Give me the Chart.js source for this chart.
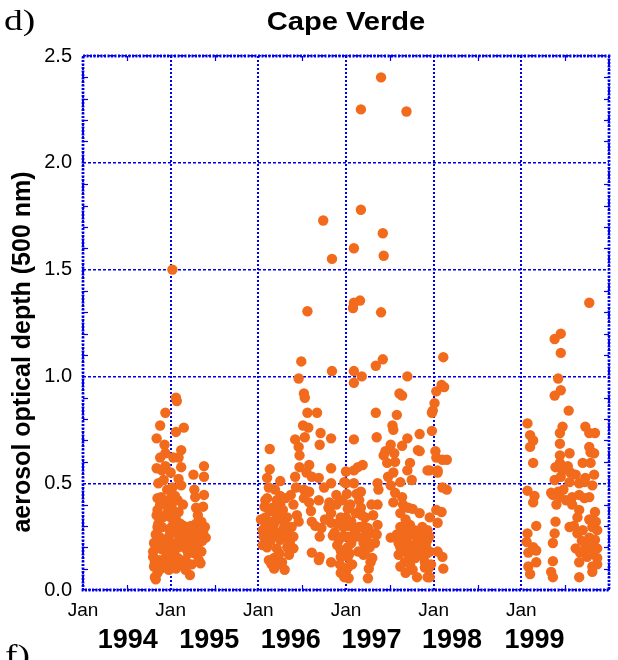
<!DOCTYPE html>
<html><head><meta charset="utf-8">
<script src="https://cdn.jsdelivr.net/npm/chart.js@4"></script>
<style>html,body{margin:0;padding:0;background:#fff}#wrap{width:618px;height:660px;position:relative}</style>
</head><body><div id="wrap"><canvas id="c" width="618" height="660"></canvas></div>
<script>
// ---- data: [decimal year, aerosol optical depth at 500 nm] ----
const season1994_95 = [
[1995.06,0.90],[1995.07,0.885],[1994.94,0.83],[1994.88,0.77],[1995.15,0.76],[1995.06,0.74],[1994.84,0.71],[1994.93,0.68],[1995.12,0.655],[1994.94,0.64],[1994.88,0.62],[1995.03,0.62],[1995.09,0.62],[1994.84,0.57],[1994.90,0.56],[1994.94,0.58],[1995.12,0.575],[1995.00,0.55],[1994.92,0.515],[1995.38,0.58],[1995.26,0.54],[1995.38,0.53],[1995.12,0.49],[1995.27,0.47],[1995.28,0.435],[1995.38,0.445],[1994.85,0.43],[1994.89,0.435],[1995.00,0.43],[1995.08,0.42],[1994.85,0.375],[1994.94,0.40],[1995.01,0.39],[1995.09,0.365],[1995.29,0.385],[1995.37,0.39],[1995.00,0.34],[1995.06,0.33],[1995.11,0.31],[1995.29,0.31],[1995.39,0.295],[1995.35,0.32],[1994.85,0.295],[1994.90,0.295],[1994.98,0.285],[1995.03,0.27],[1995.13,0.265],[1995.22,0.26],[1995.29,0.25],[1995.40,0.245],[1994.87,0.25],[1994.98,0.225],[1995.06,0.22],[1995.17,0.225],[1995.24,0.22],[1995.31,0.21],[1994.83,0.195],[1994.90,0.19],[1994.98,0.195],[1995.09,0.20],[1995.18,0.19],[1995.28,0.17],[1995.35,0.18],[1994.80,0.155],[1994.87,0.14],[1994.94,0.15],[1995.01,0.13],[1995.09,0.12],[1995.18,0.13],[1995.24,0.12],[1995.34,0.125],[1994.81,0.11],[1994.89,0.10],[1994.98,0.095],[1995.06,0.10],[1995.22,0.07],[1995.17,0.095],[1994.83,0.05],[1994.82,0.06],[1994.85,0.08],[1995.02,1.50],
[1994.82,0.13],[1994.80,0.18],[1994.81,0.22],[1994.83,0.26],[1994.96,0.36],[1995.04,0.36],[1995.02,0.30],[1995.07,0.28],[1995.10,0.25],[1995.14,0.21],[1995.20,0.17],[1995.27,0.28],[1995.33,0.27],[1995.36,0.23],[1995.31,0.35],[1994.96,0.47],[1995.05,0.44],[1994.98,0.25],[1995.12,0.14],[1995.14,0.40],[1994.86,0.31],[1994.91,0.34],
[1994.84,0.35],[1994.88,0.40],[1994.92,0.22],[1994.95,0.12],[1994.99,0.16],[1995.04,0.18],[1995.08,0.15],[1995.15,0.30],[1995.19,0.26],[1995.23,0.30],[1995.26,0.19],[1995.32,0.14],[1995.37,0.27],[1995.02,0.48],[1995.09,0.52],[1994.86,0.50]
];
const season1996 = [
[1996.46,0.99],[1996.49,1.07],[1996.56,1.305],[1996.74,1.73],[1996.84,1.55],[1996.84,1.025],[1996.52,0.92],[1996.53,0.90],[1996.56,0.83],[1996.67,0.83],[1996.51,0.77],[1996.57,0.76],[1996.71,0.735],[1996.83,0.71],[1996.53,0.715],[1996.42,0.705],[1996.70,0.68],[1996.46,0.67],[1996.47,0.63],[1996.13,0.66],[1996.58,0.585],[1996.83,0.57],[1996.13,0.565],[1996.47,0.575],[1996.55,0.55],[1996.61,0.53],[1996.69,0.525],[1996.42,0.53],[1996.10,0.525],[1996.25,0.51],[1996.98,0.505],[1996.12,0.48],[1996.43,0.48],[1996.52,0.47],[1996.58,0.46],[1996.75,0.48],[1996.83,0.50],[1996.89,0.445],[1996.25,0.44],[1996.52,0.43],[1996.69,0.42],[1996.07,0.39],[1996.16,0.385],[1996.25,0.40],[1996.40,0.40],[1996.58,0.41],[1996.81,0.41],[1996.80,0.385],[1996.89,0.40],[1996.08,0.34],[1996.21,0.35],[1996.33,0.34],[1996.44,0.35],[1996.83,0.36],[1996.94,0.34],[1996.46,0.32],[1996.61,0.32],[1996.83,0.315],[1996.08,0.295],[1996.18,0.31],[1996.29,0.29],[1996.38,0.295],[1996.72,0.29],[1996.87,0.27],[1996.97,0.295],[1996.10,0.25],[1996.19,0.255],[1996.30,0.245],[1996.40,0.25],[1996.70,0.25],[1996.85,0.255],[1996.92,0.235],[1996.10,0.20],[1996.21,0.195],[1996.33,0.20],[1996.40,0.195],[1996.61,0.175],[1996.94,0.185],[1996.18,0.15],[1996.27,0.13],[1996.70,0.155],[1996.83,0.13],[1996.94,0.155],[1996.69,0.14],[1996.18,0.10],[1996.30,0.095],[1996.93,0.12],[1996.94,0.08],[1996.98,0.06],
[1996.05,0.28],[1996.27,0.33],[1996.16,0.28],[1996.33,0.28],[1996.05,0.21],[1996.25,0.235],[1996.12,0.14],[1996.35,0.165],[1996.21,0.42],[1996.08,0.42],[1996.19,0.47],[1996.28,0.375],[1996.37,0.445],
[1996.03,0.33],[1996.06,0.25],[1996.14,0.23],[1996.15,0.32],[1996.22,0.27],[1996.24,0.17],[1996.30,0.31],[1996.36,0.22],[1996.13,0.37],[1996.20,0.39],[1996.10,0.43],[1996.31,0.43],[1996.15,0.12],[1996.22,0.12],[1996.90,0.21],[1996.96,0.25],[1996.90,0.31],[1996.96,0.42],[1996.65,0.30],[1996.76,0.33],[1996.60,0.37]
];
const season1997 = [
[1997.40,2.40],[1997.17,2.25],[1997.69,2.24],[1997.17,1.78],[1997.42,1.67],[1997.09,1.60],[1997.43,1.565],[1997.16,1.355],[1997.09,1.345],[1997.08,1.32],[1997.40,1.30],[1997.42,1.08],[1997.34,1.05],[1997.09,1.025],[1997.18,1.00],[1997.70,1.00],[1997.09,0.97],[1997.34,0.83],[1997.61,0.92],[1997.64,0.91],[1997.58,0.82],[1997.53,0.77],[1997.09,0.705],[1997.35,0.715],[1997.54,0.75],[1997.70,0.71],[1997.84,0.73],[1997.98,0.745],[1997.51,0.68],[1997.64,0.675],[1997.84,0.65],[1997.43,0.63],[1997.47,0.595],[1997.56,0.60],[1997.73,0.595],[1997.19,0.585],[1997.135,0.575],[1997.09,0.56],[1997.00,0.555],[1997.54,0.55],[1997.70,0.56],[1997.93,0.56],[1997.00,0.50],[1997.09,0.50],[1997.36,0.50],[1997.51,0.49],[1997.62,0.505],[1997.75,0.515],[1997.17,0.46],[1997.37,0.47],[1997.56,0.455],[1997.64,0.435],[1997.15,0.42],[1997.36,0.40],[1997.54,0.41],[1997.65,0.40],[1997.71,0.385],[1997.17,0.385],[1997.11,0.36],[1997.22,0.34],[1997.31,0.35],[1997.84,0.36],[1997.955,0.34],[1997.00,0.34],[1997.15,0.295],[1997.36,0.305],[1997.62,0.295],[1997.73,0.305],[1997.87,0.295],[1997.93,0.28],[1997.03,0.25],[1997.22,0.26],[1997.31,0.265],[1997.51,0.245],[1997.64,0.235],[1997.75,0.26],[1997.84,0.245],[1997.93,0.235],[1997.02,0.20],[1997.20,0.22],[1997.62,0.20],[1997.75,0.195],[1997.88,0.195],[1997.955,0.18],[1997.02,0.155],[1997.20,0.165],[1997.28,0.13],[1997.60,0.165],[1997.67,0.13],[1997.79,0.15],[1997.90,0.13],[1997.03,0.11],[1997.26,0.10],[1997.62,0.11],[1997.76,0.095],[1997.90,0.105],[1997.25,0.055],[1997.81,0.06],[1997.93,0.06],[1997.00,0.085],[1997.03,0.055],
[1997.01,0.45],[1997.05,0.40],[1997.02,0.30],[1997.06,0.22],[1997.04,0.17],[1997.10,0.28],[1997.12,0.45],[1997.20,0.30],[1997.22,0.18],[1997.27,0.20],[1997.29,0.40],[1997.30,0.15],[1997.58,0.26],[1997.66,0.28],[1997.70,0.22],[1997.72,0.16],[1997.80,0.22],[1997.83,0.27],[1997.87,0.16],[1997.91,0.21],[1997.95,0.25],[1997.97,0.12],[1997.62,0.36],[1997.68,0.33],[1997.76,0.38],[1997.48,0.53],[1997.45,0.65],[1997.55,0.64],
[1997.00,0.25],[1997.02,0.38],[1997.06,0.32],[1997.07,0.12],[1997.13,0.25],[1997.14,0.18],[1997.18,0.35],[1997.24,0.23],[1997.25,0.29],[1997.33,0.22],[1997.35,0.26],[1997.60,0.22],[1997.64,0.18],[1997.69,0.26],[1997.74,0.20],[1997.78,0.28],[1997.82,0.18],[1997.85,0.21],[1997.89,0.25],[1997.92,0.17],[1997.94,0.10],[1997.68,0.08],[1997.73,0.12]
];
const season1998 = [
[1997.99,0.84],[1998.01,0.875],[1998.03,0.93],[1998.09,0.96],[1997.82,0.655],[1997.955,0.56],[1998.045,0.56],[1998.03,0.62],[1998.10,0.61],[1998.10,0.48],[1998.03,0.375],[1998.09,0.365],[1998.11,1.09],[1998.12,0.95],[1997.98,0.83],[1998.02,0.65],[1998.15,0.61],[1998.045,0.55],[1998.15,0.47],[1998.045,0.315],[1998.045,0.18],[1998.10,0.155],[1998.11,0.10],[1997.955,0.06]
];
const season1999 = [
[1999.775,1.345],[1999.45,1.20],[1999.38,1.175],[1999.45,1.11],[1999.42,0.99],[1999.45,0.935],[1999.38,0.91],[1999.54,0.84],[1999.07,0.78],[1999.73,0.765],[1999.47,0.765],[1999.44,0.735],[1999.775,0.735],[1999.84,0.735],[1999.10,0.725],[1999.135,0.70],[1999.10,0.67],[1999.44,0.685],[1999.775,0.67],[1999.55,0.64],[1999.44,0.63],[1999.79,0.645],[1999.83,0.64],[1999.135,0.595],[1999.44,0.595],[1999.70,0.595],[1999.79,0.595],[1999.83,0.54],[1999.39,0.575],[1999.47,0.56],[1999.56,0.55],[1999.62,0.54],[1999.73,0.525],[1999.38,0.515],[1999.45,0.53],[1999.55,0.505],[1999.66,0.50],[1999.72,0.505],[1999.81,0.49],[1999.07,0.465],[1999.15,0.44],[1999.135,0.41],[1999.34,0.455],[1999.42,0.46],[1999.36,0.445],[1999.44,0.435],[1999.51,0.42],[1999.58,0.435],[1999.66,0.445],[1999.72,0.43],[1999.775,0.435],[1999.66,0.375],[1999.64,0.34],[1999.84,0.365],[1999.39,0.32],[1999.55,0.295],[1999.775,0.33],[1999.81,0.295],[1999.865,0.28],[1999.07,0.265],[1999.17,0.30],[1999.38,0.265],[1999.36,0.22],[1999.64,0.265],[1999.775,0.245],[1999.84,0.235],[1999.06,0.225],[1999.135,0.20],[1999.17,0.185],[1999.62,0.195],[1999.73,0.195],[1999.865,0.195],[1999.67,0.175],[1999.08,0.175],[1999.17,0.13],[1999.36,0.135],[1999.66,0.13],[1999.75,0.155],[1999.865,0.15],[1999.08,0.11],[1999.81,0.11],[1999.865,0.12],[1999.34,0.085],[1999.10,0.075],[1999.36,0.06],[1999.66,0.06],[1999.81,0.085],
[1999.60,0.30],[1999.70,0.28],[1999.85,0.32],[1999.78,0.21],[1999.69,0.23],[1999.80,0.17],[1999.58,0.40],[1999.48,0.47],[1999.53,0.58],[1999.40,0.40]
];

// ---- axes / labels ----
const yearLabels = ['1994','1995','1996','1997','1998','1999'];
const yearLabelAt = [1994.51,1995.44,1996.37,1997.29,1998.21,1999.15];
const janTickLabel = 'Jan';
const xMinorTicks = [1994.5,1995.5,1996.5,1997.5,1998.5,1999.5];
const yMinorTicks = [0.1,0.2,0.3,0.4,0.6,0.7,0.8,0.9,1.1,1.2,1.3,1.4,1.6,1.7,1.8,1.9,2.1,2.2,2.3,2.4];
const titleText = 'Cape Verde';
const yAxisTitle = 'aerosol optical depth (500 nm)';
const panelTop = 'd)';
const panelBottom = 'f)';

const ORANGE = '#F26A1B';
const BLUE = '#0000E8';
const SANS = "'Liberation Sans', Arial, Helvetica, sans-serif";
const SERIF = "'Liberation Serif', 'Times New Roman', serif";

const toPts = arr => arr.map(([x, y]) => ({x, y}));

const deco = {
  id: 'deco',
  beforeDatasetsDraw(chart) {
    const {ctx, chartArea: a, scales: {x, y}} = chart;
    ctx.save();
    ctx.strokeStyle = BLUE;
    ctx.lineWidth = 1.2;
    ctx.setLineDash([]);
    const line = (x1, y1, x2, y2) => { ctx.beginPath(); ctx.moveTo(x1, y1); ctx.lineTo(x2, y2); ctx.stroke(); };
    yMinorTicks.forEach(v => {
      const p = Math.round(y.getPixelForValue(v)) + 0.5;
      line(a.left, p, a.left + 5, p);
      line(a.right - 5, p, a.right, p);
    });
    xMinorTicks.forEach(v => {
      const p = Math.round(x.getPixelForValue(v)) + 0.5;
      line(p, a.top, p, a.top + 5);
      line(p, a.bottom - 5, p, a.bottom);
    });
    ctx.lineWidth = 2.8;
    ctx.setLineDash([2, 1.5]);
    ctx.strokeRect(a.left, a.top, a.right - a.left, a.bottom - a.top);
    ctx.restore();
  },
  afterDraw(chart) {
    const {ctx, chartArea: a} = chart;
    ctx.save();
    ctx.fillStyle = '#000';
    ctx.textBaseline = 'middle';
    ctx.save();
    ctx.translate((a.left + a.right) / 2, 23);
    ctx.scale(1.12, 1);
    ctx.textAlign = 'center';
    ctx.font = 'bold 26px ' + SANS;
    ctx.fillText(titleText, 0, 0);
    ctx.restore();
    ctx.textAlign = 'left';
    ctx.save();
    ctx.translate(4, 22);
    ctx.scale(1.25, 1);
    ctx.font = '30px ' + SERIF;
    ctx.fillText(panelTop, 0, 0);
    ctx.restore();
    ctx.save();
    ctx.translate(5, 657);
    ctx.scale(1.25, 1);
    ctx.font = '30px ' + SERIF;
    ctx.fillText(panelBottom, 0, 0);
    ctx.restore();
    ctx.translate(23, 352);
    ctx.rotate(-Math.PI / 2);
    ctx.textAlign = 'center';
    ctx.font = 'bold 25px ' + SANS;
    ctx.fillText(yAxisTitle, 0, 0);
    ctx.restore();
  }
};

const mk = (data) => ({
  data: toPts(data),
  backgroundColor: ORANGE,
  borderWidth: 0,
  pointRadius: 5.2,
  pointHoverRadius: 5.2
});

new Chart(document.getElementById('c'), {
  type: 'scatter',
  data: { datasets: [mk(season1994_95), mk(season1996), mk(season1997), mk(season1998), mk(season1999)] },
  options: {
    responsive: false,
    animation: false,
    devicePixelRatio: 1,
    layout: { padding: { top: 56, right: 1, left: 0, bottom: 0 } },
    plugins: { legend: { display: false }, tooltip: { enabled: false }, title: { display: false } },
    scales: {
      x: {
        type: 'linear', position: 'bottom', min: 1994, max: 2000,
        afterBuildTicks: s => { s.ticks = [1994,1995,1996,1997,1998,1999,2000].map(v => ({value: v})); },
        afterFit: s => { s.height = 33; },
        ticks: { callback: v => (v < 2000 ? janTickLabel : ''), font: { size: 19, family: SANS }, color: '#000', padding: 9, maxRotation: 0, autoSkip: false },
        grid: { color: BLUE, lineWidth: 2, drawTicks: false },
        border: { display: false, dash: [2, 2] }
      },
      x2: {
        type: 'linear', position: 'bottom', min: 1994, max: 2000,
        afterBuildTicks: s => { s.ticks = yearLabelAt.map(v => ({value: v})); },
        afterFit: s => { s.height = 37; },
        ticks: { callback: (v, i) => yearLabels[i], font: { size: 27, weight: 'bold', family: SANS }, color: '#000', padding: 1, maxRotation: 0, autoSkip: false },
        grid: { display: false, drawTicks: false },
        border: { display: false }
      },
      y: {
        min: 0, max: 2.5,
        afterBuildTicks: s => { s.ticks = [0,0.5,1,1.5,2,2.5].map(v => ({value: v})); },
        afterFit: s => { s.width = 83; },
        ticks: { callback: v => v.toFixed(1), font: { size: 20, family: SANS }, color: '#000', padding: 11 },
        grid: { color: BLUE, lineWidth: 1.4, drawTicks: false },
        border: { display: false, dash: [3, 2] }
      }
    }
  },
  plugins: [deco]
});
</script>
</body></html>
